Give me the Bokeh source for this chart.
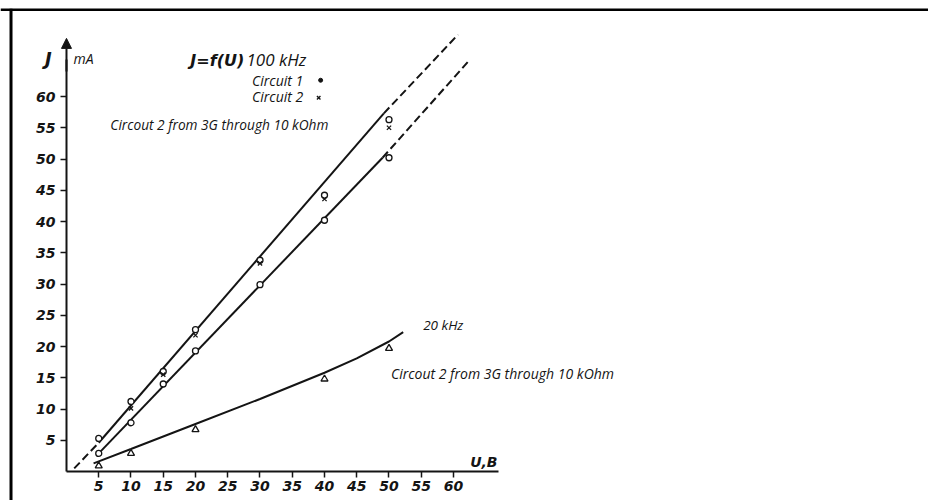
from bokeh.plotting import figure
from bokeh.models import LinearAxis, FixedTicker, Arrow, NormalHead, Range1d, Span
from bokeh.core.properties import value
from bokeh.embed import file_html
from bokeh.resources import INLINE

# ---- data ----
x_ticks = [5, 10, 15, 20, 25, 30, 35, 40, 45, 50, 55, 60]
y_ticks = [5, 10, 15, 20, 25, 30, 35, 40, 45, 50, 55, 60]

# 100 kHz, circuit 1 (dots) and circuit 2 (crosses) on the upper line
c1_x = [5, 10, 15, 20, 30, 40, 50]
c1_y = [5.3, 11.2, 16.0, 22.7, 33.8, 44.2, 56.3]
c2_x = [10, 15, 20, 30, 40, 50]
c2_y = [10.1, 15.5, 21.8, 33.3, 43.6, 55.0]
# 100 kHz, circuit 2 from 3G through 10 kOhm (open circles)
c3_x = [5, 10, 15, 20, 30, 40, 50]
c3_y = [2.9, 7.8, 14.0, 19.3, 29.9, 40.2, 50.2]
# 20 kHz, circuit 2 from 3G through 10 kOhm (triangles)
t_x = [5, 10, 20, 40, 50]
t_y = [0.9, 2.9, 6.7, 14.8, 19.7]

# drawn lines
top_solid_x = [5, 49.2]
top_solid_y = [4.6, 57.3]
top_dash_lo_x = [1.2, 5]
top_dash_lo_y = [0.5, 4.6]
top_dash_hi_x = [49.2, 60.7]
top_dash_hi_y = [57.3, 69.9]
low_solid_x = [5, 49]
low_solid_y = [2.9, 50.2]
low_dash_x = [49, 62.2]
low_dash_y = [50.2, 65.5]
tri_line_x = [4.2, 10, 20, 30, 40, 45, 50, 52.2]
tri_line_y = [1.3, 3.6, 7.6, 11.6, 15.8, 18.1, 20.8, 22.3]

INK = "#141414"
HAND = value("DejaVu Sans")
TYPE = value("Open Sans")

x_start, x_end = -10.23, 133.64
y_start, y_end = -4.64, 74.08

p = figure(width=928, height=500, x_range=Range1d(x_start, x_end), y_range=Range1d(y_start, y_end),
           x_axis_location=None, y_axis_location=None, toolbar_location=None,
           output_backend="svg", min_border=0, min_border_top=8)
p.grid.grid_line_color = None
p.outline_line_color = None
p.background_fill_color = "white"
p.border_fill_color = "white"

# page frame (left and top edges)
p.add_layout(Span(location=-8.6, dimension="height", line_color="black", line_width=3))
p.add_layout(Span(location=73.92, dimension="width", line_color="black", line_width=3))

xaxis = LinearAxis(ticker=FixedTicker(ticks=x_ticks), bounds=(0, 67), fixed_location=0)
yaxis = LinearAxis(ticker=FixedTicker(ticks=y_ticks), bounds=(0, 66), fixed_location=0)
for ax in (xaxis, yaxis):
    ax.axis_line_color = INK
    ax.axis_line_width = 2
    ax.major_tick_line_color = INK
    ax.major_tick_line_width = 1.5
    ax.major_tick_in = 0
    ax.major_tick_out = 6
    ax.minor_tick_line_color = None
    ax.major_label_text_font = "DejaVu Sans"
    ax.major_label_text_font_style = "bold italic"
    ax.major_label_text_font_size = "14px"
    ax.major_label_text_color = INK
xaxis.major_label_standoff = 3
yaxis.major_label_standoff = 5
p.add_layout(xaxis, "below")
p.add_layout(yaxis, "left")

p.add_layout(Arrow(end=NormalHead(size=10, fill_color=INK, line_color=INK), x_start=0, y_start=64,
                   x_end=0, y_end=69.3, line_color=INK, line_width=2))

# lines
p.line(top_solid_x, top_solid_y, line_color=INK, line_width=2)
p.line(top_dash_lo_x, top_dash_lo_y, line_color=INK, line_width=2, line_dash="8 4")
p.line(top_dash_hi_x, top_dash_hi_y, line_color=INK, line_width=2, line_dash="8 4")
p.line(low_solid_x, low_solid_y, line_color=INK, line_width=2)
p.line(low_dash_x, low_dash_y, line_color=INK, line_width=2, line_dash="8 4")
p.line(tri_line_x, tri_line_y, line_color=INK, line_width=2)

# markers
p.scatter(c1_x, c1_y, marker="circle", size=6, line_color=INK, line_width=1.3, fill_color="white")
p.scatter(c2_x, c2_y, marker="x", size=6, line_color=INK, line_width=1.3)
p.scatter(c3_x, c3_y, marker="circle", size=6, line_color=INK, line_width=1.3, fill_color="white")
p.scatter(t_x, t_y, marker="triangle", size=7, line_color=INK, line_width=1.3, fill_color="white")

# legend markers
p.scatter([39.4], [62.6], marker="circle", size=4, line_color=INK, fill_color=INK)
p.scatter([39.1], [59.8], marker="x", size=5, line_color=INK, line_width=1.3)

def label(x, y, text, font, size, style="italic", align="left"):
    p.text([x], [y], text=[text], text_font=font, text_font_size=size, text_font_style=style,
           text_color=INK, text_align=align, text_baseline="middle")

label(-2.8, 66.1, "J", HAND, "18px", "bold italic", "center")
label(1.1, 66.1, "mA", TYPE, "14px")
label(19.2, 65.8, "J=f(U)", HAND, "16px", "bold italic")
label(27.9, 65.9, "100 kHz", TYPE, "17px")
label(36.7, 62.6, "Circuit 1", TYPE, "14px", "italic", "right")
label(36.7, 60.0, "Circuit 2", TYPE, "14px", "italic", "right")
label(6.8, 55.5, "Circout 2 from 3G through 10 kOhm", TYPE, "13.7px")
label(55.3, 23.4, "20 kHz", TYPE, "13.5px")
label(50.3, 15.7, "Circout 2 from 3G through 10 kOhm", TYPE, "14px")
label(64.7, 1.6, "U,В", HAND, "14px", "bold italic", "center")

open("out.html", "w").write(file_html(p, INLINE))
